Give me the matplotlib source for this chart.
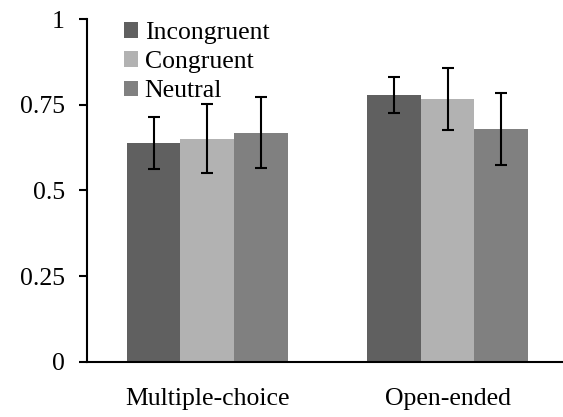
import numpy as np
import matplotlib
matplotlib.use("Agg")
import matplotlib.pyplot as plt

# datos
categories = ["Multiple-choice", "Open-ended"]
conditions = ["Incongruent", "Congruent", "Neutral"]
incongruent = [0.638, 0.778]
congruent = [0.651, 0.766]
neutral = [0.668, 0.679]
err_incongruent = [0.075, 0.052]
err_congruent = [0.100, 0.090]
err_neutral = [0.104, 0.104]
yticks = [0, 0.25, 0.5, 0.75, 1]
ytick_labels = ["0", "0.25", "0.5", "0.75", "1"]

colors = ["#606060", "#b2b2b2", "#808080"]

plt.rcParams['font.family'] = ['Liberation Serif', 'DejaVu Serif']

fig = plt.figure(figsize=(5.63, 4.17), dpi=100)
ax = fig.add_axes([87 / 563, 1 - 361.7 / 417, (563 - 87) / 563, (361.7 - 19) / 417])

x = np.arange(len(categories))
w = 0.223
series = [incongruent, congruent, neutral]
errors = [err_incongruent, err_congruent, err_neutral]
for i, (vals, errs) in enumerate(zip(series, errors)):
    ax.bar(x + (i - 1) * w, vals, w, color=colors[i], label=conditions[i],
           yerr=errs, error_kw=dict(ecolor='black', elinewidth=1.5, capsize=4.5, capthick=1.5))

ax.set_xlim(-0.5, 1.48)
ax.set_ylim(0, 1)
ax.set_yticks(yticks)
ax.set_yticklabels(ytick_labels)
ax.set_xticks(x)
ax.set_xticklabels(categories)
ax.tick_params(axis='y', direction='out', length=6, width=1.5, labelsize=18.5, pad=10)
ax.tick_params(axis='x', length=0, labelsize=18.5, pad=19)
for s in ['top', 'right']:
    ax.spines[s].set_visible(False)
ax.spines['left'].set_linewidth(1.5)
ax.spines['bottom'].set_linewidth(1.5)

ax.legend(loc='upper left', bbox_to_anchor=(124 / 563, 1 - 22 / 417), bbox_transform=fig.transFigure,
          frameon=False, fontsize=18.5, handlelength=0.55, handleheight=0.55, handletextpad=0.25,
          labelspacing=0.28, borderaxespad=0, borderpad=0)

fig.savefig("out.png", dpi=100)
